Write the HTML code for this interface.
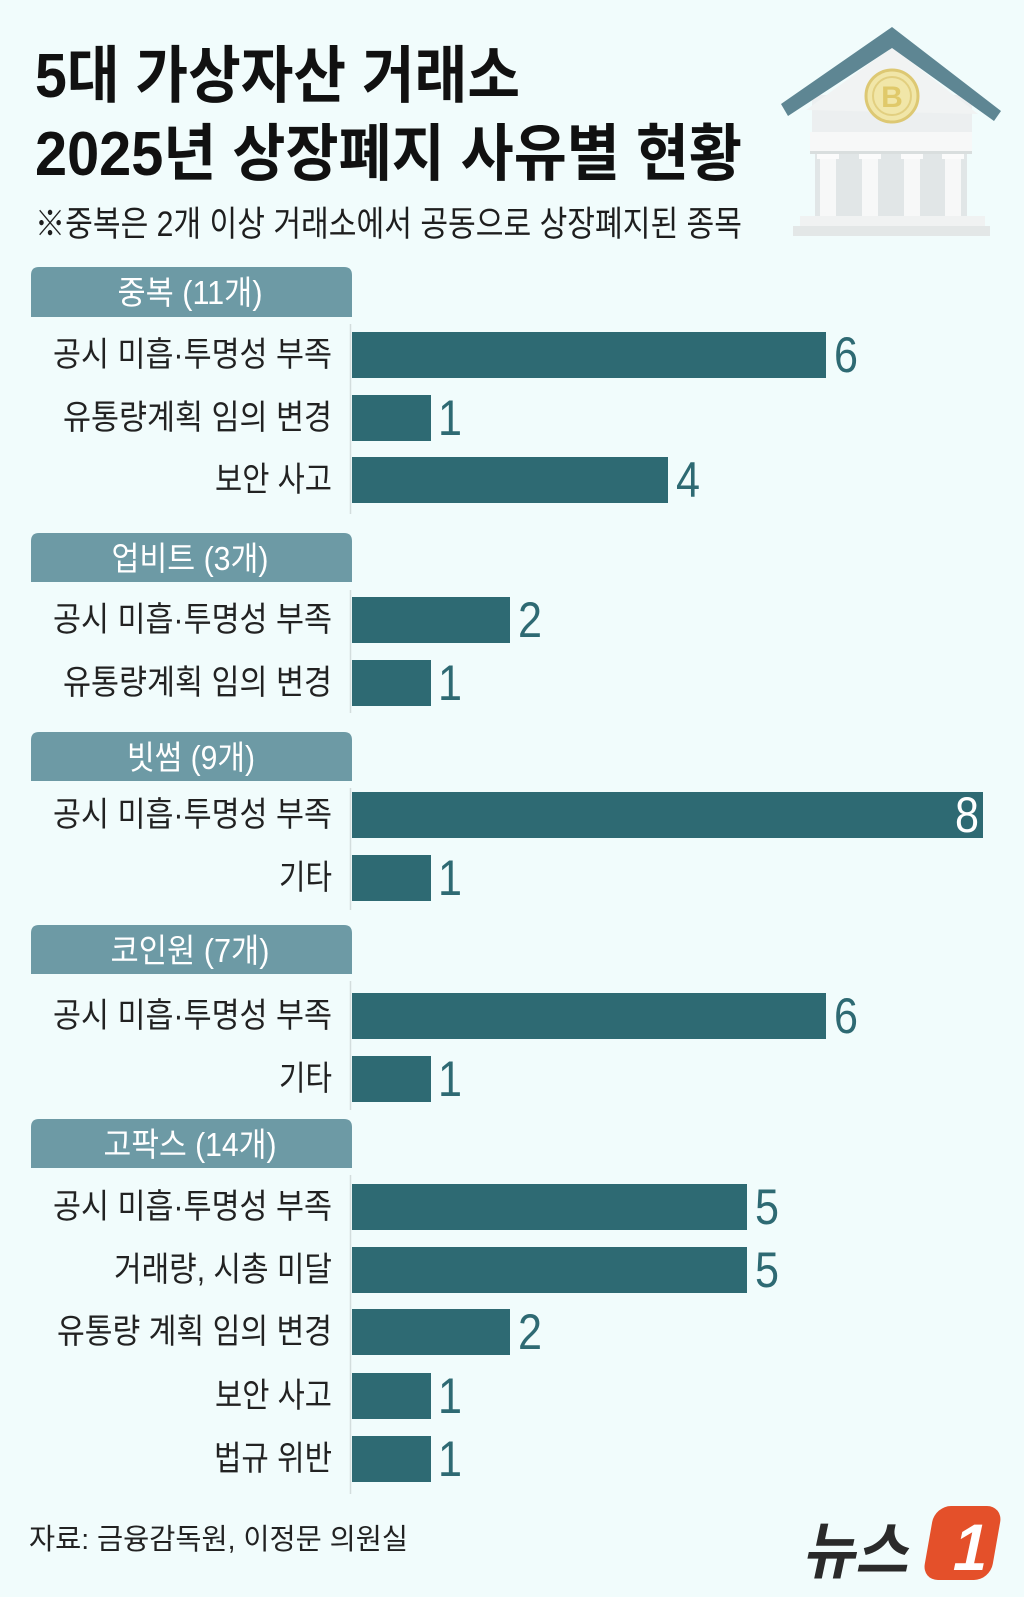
<!DOCTYPE html>
<html>
<head>
<meta charset="utf-8">
<style>
html,body{margin:0;padding:0;background:#f1fcfc;}
svg{display:block;}
.t{font-family:"Liberation Sans","Noto Sans CJK KR",sans-serif;}
</style>
</head>
<body>
<svg width="1024" height="1597" viewBox="0 0 1024 1597" xmlns="http://www.w3.org/2000/svg">
<rect x="0" y="0" width="1024" height="1597" fill="#f1fcfc"/>

<!-- Title -->
<text class="t" x="35" y="97" font-size="62" font-weight="700" fill="#111" textLength="485" lengthAdjust="spacingAndGlyphs">5대 가상자산 거래소</text>
<text class="t" x="35" y="175" font-size="62" font-weight="700" fill="#111" textLength="707" lengthAdjust="spacingAndGlyphs">2025년 상장폐지 사유별 현황</text>
<text class="t" x="35" y="236" font-size="35" fill="#1e1e1e" textLength="707" lengthAdjust="spacingAndGlyphs">※중복은 2개 이상 거래소에서 공동으로 상장폐지된 종목</text>

<!-- Building icon -->
<g>
  <rect x="812" y="95" width="160" height="40" fill="#eceff0"/>
  <polygon points="892,47 806,110 978,114" fill="#f1f3f3"/>
  <polygon points="892,27 781,104 788,116 892,48 994,121 1001,111" fill="#5e8693"/>
  <circle cx="892" cy="96" r="26" fill="#f1e6a8" stroke="#ddc873" stroke-width="3"/>
  <circle cx="892" cy="96" r="19" fill="none" stroke="#e2cf80" stroke-width="2"/>
  <text class="t" x="892" y="107" font-size="30" font-weight="700" fill="#e0c96a" text-anchor="middle">B</text>
  <rect x="810" y="132" width="162" height="20" fill="#f7f8f8"/>
  <rect x="810" y="151" width="162" height="3" fill="#d9dede"/>
  <rect x="815" y="154" width="152" height="66" fill="#e1e6e7"/>
  <rect x="820" y="154" width="16" height="66" fill="#f7f8f8"/>
  <rect x="862" y="154" width="16" height="66" fill="#f7f8f8"/>
  <rect x="904" y="154" width="16" height="66" fill="#f7f8f8"/>
  <rect x="945" y="154" width="16" height="66" fill="#f7f8f8"/>
  <rect x="817" y="154" width="22" height="5" fill="#fbfbfb"/>
  <rect x="859" y="154" width="22" height="5" fill="#fbfbfb"/>
  <rect x="901" y="154" width="22" height="5" fill="#fbfbfb"/>
  <rect x="942" y="154" width="22" height="5" fill="#fbfbfb"/>
  <rect x="800" y="216" width="185" height="11" fill="#f0f2f2"/>
  <rect x="793" y="226" width="197" height="10" fill="#e3e7e7"/>
</g>

<!-- Separator lines -->
<g stroke="#d3dddd" stroke-width="1.5">
  <line x1="350.5" y1="324" x2="350.5" y2="514"/>
  <line x1="350.5" y1="590" x2="350.5" y2="713"/>
  <line x1="350.5" y1="788" x2="350.5" y2="910"/>
  <line x1="350.5" y1="981" x2="350.5" y2="1110"/>
  <line x1="350.5" y1="1175" x2="350.5" y2="1494"/>
</g>

<!-- Headers -->
<g fill="#6d9aa5">
  <path d="M31,317 V275 Q31,267 39,267 H344 Q352,267 352,275 V317 Z"/>
  <path d="M31,582 V541 Q31,533 39,533 H344 Q352,533 352,541 V582 Z"/>
  <path d="M31,781 V740 Q31,732 39,732 H344 Q352,732 352,740 V781 Z"/>
  <path d="M31,974 V933 Q31,925 39,925 H344 Q352,925 352,933 V974 Z"/>
  <path d="M31,1168 V1127 Q31,1119 39,1119 H344 Q352,1119 352,1127 V1168 Z"/>
</g>
<g class="t" font-size="33" fill="#ffffff" text-anchor="middle">
  <text x="190" y="304" textLength="145" lengthAdjust="spacingAndGlyphs">중복 (11개)</text>
  <text x="190" y="570" textLength="157" lengthAdjust="spacingAndGlyphs">업비트 (3개)</text>
  <text x="191" y="769" textLength="128" lengthAdjust="spacingAndGlyphs">빗썸 (9개)</text>
  <text x="190" y="962" textLength="159" lengthAdjust="spacingAndGlyphs">코인원 (7개)</text>
  <text x="190" y="1156" textLength="173" lengthAdjust="spacingAndGlyphs">고팍스 (14개)</text>
</g>

<!-- Bars -->
<g fill="#2e6a73">
  <rect x="352" y="332" width="474" height="46"/>
  <rect x="352" y="395" width="79" height="46"/>
  <rect x="352" y="457" width="316" height="46"/>

  <rect x="352" y="597" width="158" height="46"/>
  <rect x="352" y="660" width="79" height="46"/>

  <rect x="352" y="792" width="631" height="46"/>
  <rect x="352" y="855" width="79" height="46"/>

  <rect x="352" y="993" width="474" height="46"/>
  <rect x="352" y="1056" width="79" height="46"/>

  <rect x="352" y="1184" width="395" height="46"/>
  <rect x="352" y="1247" width="395" height="46"/>
  <rect x="352" y="1309" width="158" height="46"/>
  <rect x="352" y="1373" width="79" height="46"/>
  <rect x="352" y="1436" width="79" height="46"/>
</g>

<!-- Category labels -->
<g class="t" font-size="34" fill="#222" text-anchor="end">
  <text x="332" y="366" textLength="279" lengthAdjust="spacingAndGlyphs">공시 미흡·투명성 부족</text>
  <text x="332" y="429" textLength="269" lengthAdjust="spacingAndGlyphs">유통량계획 임의 변경</text>
  <text x="332" y="491" textLength="117" lengthAdjust="spacingAndGlyphs">보안 사고</text>

  <text x="332" y="631" textLength="279" lengthAdjust="spacingAndGlyphs">공시 미흡·투명성 부족</text>
  <text x="332" y="694" textLength="269" lengthAdjust="spacingAndGlyphs">유통량계획 임의 변경</text>

  <text x="332" y="826" textLength="279" lengthAdjust="spacingAndGlyphs">공시 미흡·투명성 부족</text>
  <text x="332" y="889" textLength="53" lengthAdjust="spacingAndGlyphs">기타</text>

  <text x="332" y="1027" textLength="279" lengthAdjust="spacingAndGlyphs">공시 미흡·투명성 부족</text>
  <text x="332" y="1090" textLength="53" lengthAdjust="spacingAndGlyphs">기타</text>

  <text x="332" y="1218" textLength="279" lengthAdjust="spacingAndGlyphs">공시 미흡·투명성 부족</text>
  <text x="332" y="1281" textLength="218" lengthAdjust="spacingAndGlyphs">거래량, 시총 미달</text>
  <text x="332" y="1343" textLength="275" lengthAdjust="spacingAndGlyphs">유통량 계획 임의 변경</text>
  <text x="332" y="1407" textLength="117" lengthAdjust="spacingAndGlyphs">보안 사고</text>
  <text x="332" y="1470" textLength="118" lengthAdjust="spacingAndGlyphs">법규 위반</text>
</g>

<!-- Value labels -->
<g class="t" font-size="50" fill="#2e6a73">
  <text x="834" y="372" textLength="24" lengthAdjust="spacingAndGlyphs">6</text>
  <text x="438" y="435" textLength="24" lengthAdjust="spacingAndGlyphs">1</text>
  <text x="676" y="497" textLength="24" lengthAdjust="spacingAndGlyphs">4</text>

  <text x="518" y="637" textLength="24" lengthAdjust="spacingAndGlyphs">2</text>
  <text x="438" y="700" textLength="24" lengthAdjust="spacingAndGlyphs">1</text>

  <text x="438" y="895" textLength="24" lengthAdjust="spacingAndGlyphs">1</text>

  <text x="834" y="1033" textLength="24" lengthAdjust="spacingAndGlyphs">6</text>
  <text x="438" y="1096" textLength="24" lengthAdjust="spacingAndGlyphs">1</text>

  <text x="755" y="1224" textLength="24" lengthAdjust="spacingAndGlyphs">5</text>
  <text x="755" y="1287" textLength="24" lengthAdjust="spacingAndGlyphs">5</text>
  <text x="518" y="1349" textLength="24" lengthAdjust="spacingAndGlyphs">2</text>
  <text x="438" y="1413" textLength="24" lengthAdjust="spacingAndGlyphs">1</text>
  <text x="438" y="1476" textLength="24" lengthAdjust="spacingAndGlyphs">1</text>
</g>
<text class="t" x="979" y="832" font-size="50" fill="#ffffff" text-anchor="end" textLength="24" lengthAdjust="spacingAndGlyphs">8</text>

<!-- Footer -->
<text class="t" x="29" y="1549" font-size="29" fill="#222" textLength="379" lengthAdjust="spacingAndGlyphs">자료: 금융감독원, 이정문 의원실</text>

<!-- Logo -->
<g transform="translate(802,1573) skewX(-12)">
  <text class="t" x="0" y="0" font-size="62" font-weight="700" fill="#2a2a2a" textLength="106" lengthAdjust="spacingAndGlyphs">뉴스</text>
</g>
<g transform="translate(0,1506) skewX(-10)">
  <rect x="935" y="0" width="68" height="74" rx="16" ry="16" fill="#e4502a"/>
</g>
<g transform="translate(950,1570) skewX(-12)">
  <text class="t" x="0" y="0" font-size="66" font-weight="700" fill="#ffffff" textLength="34" lengthAdjust="spacingAndGlyphs">1</text>
</g>
</svg>
</body>
</html>
